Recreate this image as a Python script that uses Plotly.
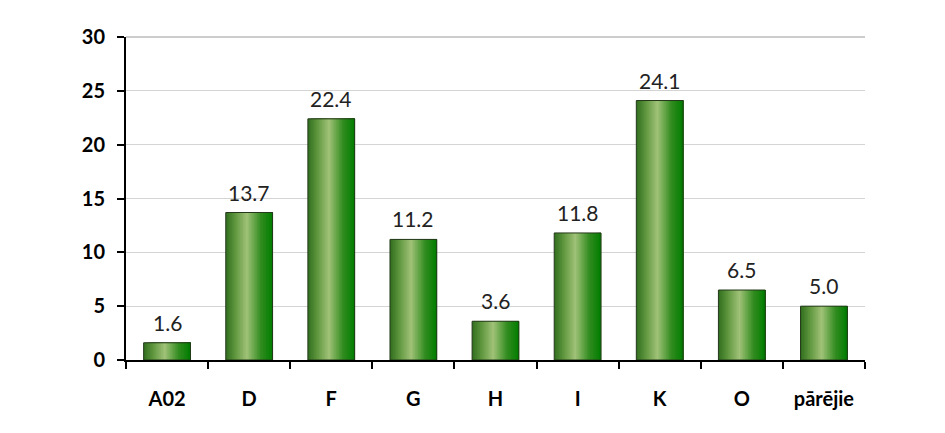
import plotly.graph_objects as go

categories = ["A02", "D", "F", "G", "H", "I", "K", "O", "pārējie"]
values = [1.6, 13.7, 22.4, 11.2, 3.6, 11.8, 24.1, 6.5, 5.0]
label_texts = ["1.6", "13.7", "22.4", "11.2", "3.6", "11.8", "24.1", "6.5", "5.0"]
y_ticks = [0, 5, 10, 15, 20, 25, 30]

BAR_W = 0.57
N = 30
# gradient stops (position, rgb)
stops = [(0.0, (48, 110, 30)), (0.2, (95, 150, 62)), (0.45, (160, 194, 120)),
         (0.75, (50, 140, 32)), (1.0, (0, 125, 0))]


def interp(t):
    for (p0, c0), (p1, c1) in zip(stops[:-1], stops[1:]):
        if p0 <= t <= p1:
            f = (t - p0) / (p1 - p0)
            return tuple(int(round(a + (b - a) * f)) for a, b in zip(c0, c1))
    return stops[-1][1]


fig = go.Figure()
sw = BAR_W / N
for i in range(N):
    t = (i + 0.5) / N
    r, g, b = interp(t)
    fig.add_trace(go.Bar(
        x=categories, y=values,
        width=BAR_W - i * sw, offset=-BAR_W / 2 + i * sw,
        marker=dict(color=f"rgb({r},{g},{b})", line=dict(width=0)),
        hoverinfo="skip", showlegend=False,
    ))

fig.add_trace(go.Bar(
    x=categories, y=values, width=BAR_W, offset=-BAR_W / 2,
    marker=dict(color="rgba(0,0,0,0)", line=dict(color="#24381a", width=1)),
    showlegend=False,
))

for c, v, t in zip(categories, values, label_texts):
    fig.add_annotation(x=c, y=v, text=t, showarrow=False, yanchor="bottom",
                       yshift=6, font=dict(family="Lato", size=21, color="#222"))

fig.add_shape(type="line", xref="x domain", yref="y domain", x0=0, x1=1, y0=1, y1=1,
              line=dict(color="#9a9a9a", width=1), layer="below")

fig.update_layout(
    barmode="overlay",
    width=945, height=433,
    margin=dict(l=118, r=88, t=29, b=81),
    paper_bgcolor="white", plot_bgcolor="white",
    font=dict(family="Lato", color="black"),
)
fig.update_xaxes(
    type="category", tickson="boundaries", ticks="outside", ticklen=7,
    tickwidth=2, tickcolor="black", showline=True, linecolor="black", linewidth=2,
    tickfont=dict(family="Lato", size=20, weight="bold"), showgrid=False,
    ticklabelstandoff=20,
)
fig.update_yaxes(
    range=[0, 30], tickvals=y_ticks, ticks="outside", ticklen=7, tickwidth=2,
    tickcolor="black", showline=True, linecolor="black", linewidth=2,
    showgrid=True, gridcolor="#d4d4d4", gridwidth=1, zeroline=False,
    tickfont=dict(family="Lato", size=20, weight="bold"), ticklabelstandoff=8,
)

fig.write_html("out.html")
